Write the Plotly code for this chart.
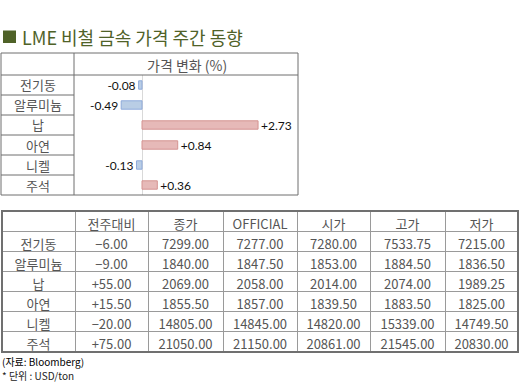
import plotly.graph_objects as go

# ---------------- data ----------------
metals = ["전기동", "알루미늄", "납", "아연", "니켈", "주석"]
pct_change = [-0.08, -0.49, 2.73, 0.84, -0.13, 0.36]

table_headers = ["", "전주대비", "종가", "OFFICIAL", "시가", "고가", "저가"]
wow_change = [-6.00, -9.00, 55.00, 15.50, -20.00, 75.00]
close_px = [7299.00, 1840.00, 2069.00, 1855.50, 14805.00, 21050.00]
official_px = [7277.00, 1847.50, 2058.00, 1857.00, 14845.00, 21150.00]
open_px = [7280.00, 1853.00, 2014.00, 1839.50, 14820.00, 20861.00]
high_px = [7533.75, 1884.50, 2074.00, 1883.50, 15339.00, 21545.00]
low_px = [7215.00, 1836.50, 1989.25, 1825.00, 14749.50, 20830.00]

title_text = "LME 비철 금속 가격 주간 동향"
chart_header = "가격 변화 (%)"
note_source = "(자료: Bloomberg)"
note_unit = "* 단위 : USD/ton"

# ---------------- helpers ----------------
W, H = 520, 383
FONT = "Noto Sans CJK KR"


def px(x):
    return x / W


def py(y):
    return 1 - y / H


pct_labels = [f"{v:+.2f}" for v in pct_change]
bar_fill = ["#e6b9b8" if v >= 0 else "#b9cde5" for v in pct_change]
bar_line = ["#d49391" if v >= 0 else "#8eaadb" for v in pct_change]


def signed(v):
    return f"{v:+.2f}".replace("-", "−")


fig = go.Figure()

# bar chart
fig.add_trace(go.Bar(
    x=pct_change, y=metals, orientation="h",
    marker=dict(color=bar_fill, line=dict(color=bar_line, width=1)),
    width=0.42,
    text=pct_labels, textposition="outside", constraintext="none",
    textfont=dict(family="Lato", size=12, color="#111"),
    cliponaxis=False, xaxis="x", yaxis="y", showlegend=False,
    hoverinfo="skip",
))

# table
fig.add_trace(go.Table(
    domain=dict(x=[px(2), px(518)], y=[py(352), py(211)]),
    columnwidth=[73, 73, 75, 74, 73, 75, 73],
    header=dict(
        values=table_headers, height=20, align="center",
        fill_color="white", line=dict(color="#9a9a9a", width=1),
        font=dict(family=FONT, size=13, color="#555"),
    ),
    cells=dict(
        values=[
            metals,
            [signed(v) for v in wow_change],
            [f"{v:.2f}" for v in close_px],
            [f"{v:.2f}" for v in official_px],
            [f"{v:.2f}" for v in open_px],
            [f"{v:.2f}" for v in high_px],
            [f"{v:.2f}" for v in low_px],
        ],
        height=20, align="center",
        fill_color="white", line=dict(color="#9a9a9a", width=1),
        font=dict(family=FONT, size=13, color="#555"),
    ),
))

shapes = []
line_c = "#6e6e6e"
# top box
shapes.append(dict(type="rect", xref="paper", yref="paper",
                   x0=px(1), x1=px(298), y0=py(195), y1=py(53),
                   line=dict(color=line_c, width=1)))
shapes.append(dict(type="line", xref="paper", yref="paper",
                   x0=px(1), x1=px(298), y0=py(75), y1=py(75),
                   line=dict(color=line_c, width=1)))
shapes.append(dict(type="line", xref="paper", yref="paper",
                   x0=px(74), x1=px(74), y0=py(53), y1=py(195),
                   line=dict(color=line_c, width=1)))
for yy in [95, 115, 135, 155, 175]:
    shapes.append(dict(type="line", xref="paper", yref="paper",
                       x0=px(1), x1=px(74), y0=py(yy), y1=py(yy),
                       line=dict(color=line_c, width=1)))
# table outer border
shapes.append(dict(type="rect", xref="paper", yref="paper",
                   x0=px(2), x1=px(518), y0=py(352), y1=py(211),
                   line=dict(color="#707070", width=2)))
# title square
shapes.append(dict(type="rect", xref="paper", yref="paper",
                   x0=px(3), x1=px(16), y0=py(43), y1=py(30.5),
                   line=dict(width=0), fillcolor="#4f6228"))

annotations = [
    dict(text=title_text, x=px(20), y=py(37), xref="paper", yref="paper",
         xanchor="left", yanchor="middle", showarrow=False,
         font=dict(family=FONT, size=18, color="#4f6228")),
    dict(text=chart_header, x=px(186.5), y=py(64.5), xref="paper", yref="paper",
         xanchor="center", yanchor="middle", showarrow=False,
         font=dict(family=FONT, size=14, color="#555")),
    dict(text=note_source, x=px(0), y=py(361.2), xref="paper", yref="paper",
         xanchor="left", yanchor="middle", showarrow=False,
         font=dict(family=FONT, size=10, color="#000")),
    dict(text=note_unit, x=px(0), y=py(375.5), xref="paper", yref="paper",
         xanchor="left", yanchor="middle", showarrow=False,
         font=dict(family=FONT, size=10, color="#222")),
]
for m in metals:
    annotations.append(dict(text=m, x=px(37.5), y=m, xref="paper", yref="y",
                            xanchor="center", yanchor="middle", showarrow=False,
                            font=dict(family=FONT, size=13, color="#555")))

fig.update_layout(
    width=W, height=H, margin=dict(l=0, r=0, t=0, b=0),
    paper_bgcolor="white", plot_bgcolor="white",
    showlegend=False,
    xaxis=dict(domain=[px(74), px(298)], range=[-1.6, 3.67],
               showgrid=False, showticklabels=False, showline=False,
               zeroline=True, zerolinecolor="#d9d9d9", zerolinewidth=1,
               fixedrange=True),
    yaxis=dict(domain=[py(195), py(75)], categoryorder="array",
               categoryarray=metals, range=[5.5, -0.5],
               showgrid=False, showticklabels=False, showline=False,
               zeroline=False, fixedrange=True),
    shapes=shapes, annotations=annotations,
)

fig.write_html(
    "out.html",
    config={"displayModeBar": False},
    post_script="document.body.style.margin='0';document.body.style.overflow='hidden';",
)
